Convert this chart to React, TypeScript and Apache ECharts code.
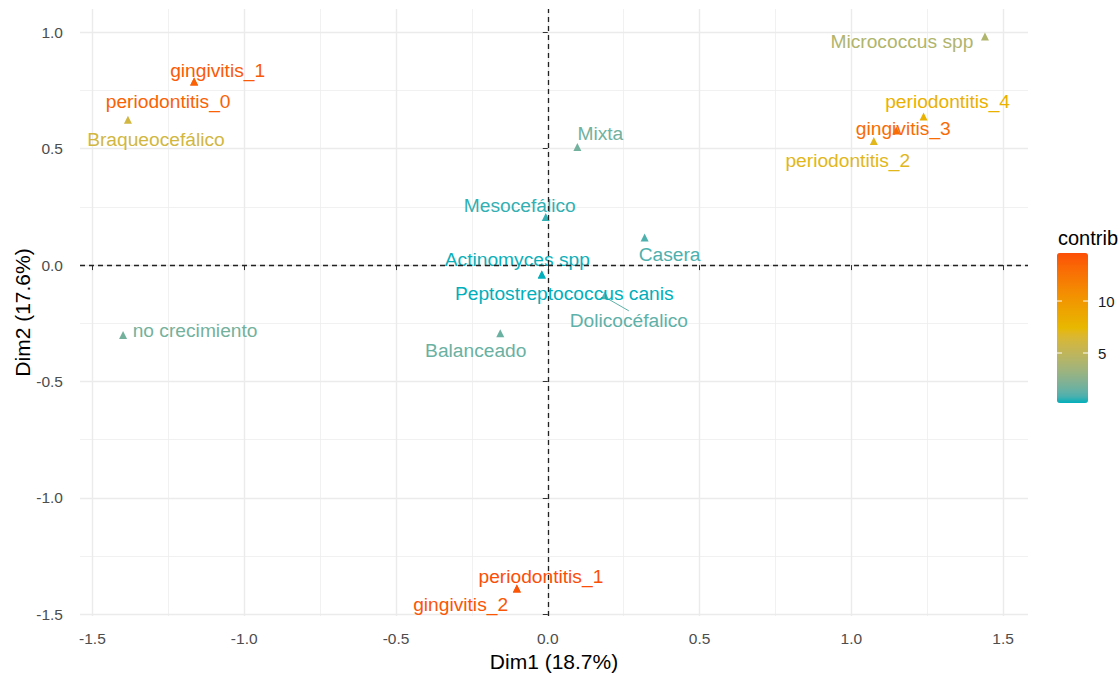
import React, { useEffect, useRef } from "react";
import * as echarts from "echarts";

// Category coordinates on the first two MCA dimensions and their contributions
const names = [
  "gingivitis_1",
  "periodontitis_0",
  "Braqueocefálico",
  "Micrococcus spp",
  "periodontitis_4",
  "gingivitis_3",
  "periodontitis_2",
  "Mixta",
  "Mesocefálico",
  "Casera",
  "Actinomyces spp",
  "Peptostreptococcus canis",
  "Dolicocéfalico",
  "Balanceado",
  "no crecimiento",
  "periodontitis_1",
  "gingivitis_2",
];
const dim1 = [
  -1.165, -1.165, -1.383, 1.44, 1.238, 1.148, 1.074, 0.0975, -0.0066, 0.319,
  -0.0197, -0.0197, 0.188, -0.1565, -1.399, -0.1017, -0.1017,
];
const dim2 = [
  0.789, 0.789, 0.6245, 0.9816, 0.6387, 0.5787, 0.5328, 0.507, 0.207, 0.1187,
  -0.04, -0.04, -0.13, -0.293, -0.3, -1.389, -1.389,
];
const contrib = [
  14.0, 13.6, 6.0, 4.2, 8.0, 13.0, 7.0, 1.7, 0.6, 0.9, 0.3, 0.19, 1.2, 1.5, 1.8,
  14.62, 14.2,
];

// Axis breaks
const xMajor = [-1.5, -1.0, -0.5, 0, 0.5, 1.0, 1.5];
const xMinor = [-1.25, -0.75, -0.25, 0.25, 0.75, 1.25];
const yMajor = [-1.5, -1.0, -0.5, 0, 0.5, 1.0];
const yMinor = [-1.25, -0.75, -0.25, 0.25, 0.75];
const legendBreaks = [5, 10];

// Repelled label placement (pixel offset of each label from its point)
const labelOffsets: [number, number][] = [
  [23.5, -11],
  [-26, 20],
  [28, 19.5],
  [-83, 5],
  [24, -14.5],
  [7, -1.5],
  [-26, 19.5],
  [23, -13.5],
  [-26, -11.5],
  [25, 17.5],
  [-24.5, -15],
  [22.5, 19],
  [24, 25],
  [-24.5, 17.5],
  [72, -4],
  [24, -12],
  [-56.3, 16.5],
];

// Gradient stops of the colour scale, interpolated in CIELAB
const gradientAnchors = ["#00AFBB", "#E7B800", "#FC4E07"];

function hexToLab(hex: string): number[] {
  const c = [1, 3, 5].map((i) => parseInt(hex.slice(i, i + 2), 16) / 255);
  const lin = c.map((v) =>
    v <= 0.04045 ? v / 12.92 : Math.pow((v + 0.055) / 1.055, 2.4)
  );
  const X = (0.4124564 * lin[0] + 0.3575761 * lin[1] + 0.1804375 * lin[2]) / 0.95047;
  const Y = 0.2126729 * lin[0] + 0.7151522 * lin[1] + 0.072175 * lin[2];
  const Z = (0.0193339 * lin[0] + 0.119192 * lin[1] + 0.9503041 * lin[2]) / 1.08883;
  const f = (t: number) =>
    t > 216 / 24389 ? Math.cbrt(t) : ((24389 / 27) * t + 16) / 116;
  const fx = f(X), fy = f(Y), fz = f(Z);
  return [116 * fy - 16, 500 * (fx - fy), 200 * (fy - fz)];
}

function labToHex(lab: number[]): string {
  const fy = (lab[0] + 16) / 116;
  const fx = fy + lab[1] / 500;
  const fz = fy - lab[2] / 200;
  const inv = (t: number) =>
    t * t * t > 216 / 24389 ? t * t * t : (116 * t - 16) / (24389 / 27);
  const X = inv(fx) * 0.95047, Y = inv(fy), Z = inv(fz) * 1.08883;
  const r = 3.2404542 * X - 1.5371385 * Y - 0.4985314 * Z;
  const g = -0.969266 * X + 1.8760108 * Y + 0.041556 * Z;
  const b = 0.0556434 * X - 0.2040259 * Y + 1.0572252 * Z;
  const toHex = (v: number) => {
    const s = v <= 0.0031308 ? 12.92 * v : 1.055 * Math.pow(v, 1 / 2.4) - 0.055;
    const n = Math.round(Math.min(1, Math.max(0, s)) * 255);
    return n.toString(16).padStart(2, "0");
  };
  return "#" + toHex(r) + toHex(g) + toHex(b);
}

function labRamp(anchors: string[], steps: number): string[] {
  const labs = anchors.map(hexToLab);
  const out: string[] = [];
  for (let i = 0; i <= steps; i++) {
    const t = (i / steps) * (labs.length - 1);
    const k = Math.min(labs.length - 2, Math.floor(t));
    const u = t - k;
    out.push(labToHex(labs[k].map((v, j) => v + (labs[k + 1][j] - v) * u)));
  }
  return out;
}

const FONT = "'Liberation Sans', Arial, Helvetica, sans-serif";

export default function App() {
  const ref = useRef<HTMLDivElement>(null);

  useEffect(() => {
    document.body.style.margin = "0";
    const chart = echarts.init(ref.current!, null, { renderer: "svg" });

    const xMin = Math.min(...dim1), xMax = Math.max(...dim1);
    const yMin = Math.min(...dim2), yMax = Math.max(...dim2);
    const xPad = (xMax - xMin) * 0.05, yPad = (yMax - yMin) * 0.05;
    const cMin = Math.min(...contrib), cMax = Math.max(...contrib);

    const bar = { left: 1057, top: 253, width: 31, height: 150 };
    const barY = (v: number) => bar.top + ((cMax - v) / (cMax - cMin)) * bar.height;

    const points = names.map((n, i) => ({
      name: n,
      value: [dim1[i], dim2[i], contrib[i]],
      label: { offset: labelOffsets[i] },
      labelLine: n === "Dolicocéfalico" ? { show: true, lineStyle: { width: 1 } } : undefined,
    }));

    const gridLine = (color: string, width: number) => ({ color, width, type: "solid" });

    const option: any = {
      animation: false,
      backgroundColor: "#ffffff",
      textStyle: { fontFamily: FONT },
      grid: {
        left: 80,
        right: 92,
        top: 9,
        bottom: 59,
        containLabel: false,
        outerBoundsMode: "none",
      },
      xAxis: {
        type: "value",
        min: xMin - xPad,
        max: xMax + xPad,
        name: "Dim1 (18.7%)",
        nameLocation: "middle",
        nameGap: 35,
        nameMoveOverlap: false,
        nameTextStyle: { fontSize: 21, color: "#000", fontFamily: FONT },
        axisLine: { show: false },
        splitLine: { show: false },
        axisTick: { show: true, customValues: xMajor, length: 5, lineStyle: { color: "#333", width: 1 } },
        axisLabel: {
          customValues: xMajor,
          formatter: (v: number) => v.toFixed(1),
          fontSize: 15.5,
          color: "#4D4D4D",
          margin: 14,
          fontFamily: FONT,
        },
      },
      yAxis: {
        type: "value",
        min: yMin - yPad,
        max: yMax + yPad,
        name: "Dim2 (17.6%)",
        nameLocation: "middle",
        nameGap: 47,
        nameMoveOverlap: false,
        nameTextStyle: { fontSize: 21, color: "#000", fontFamily: FONT },
        axisLine: { show: false },
        splitLine: { show: false },
        axisTick: { show: true, customValues: yMajor, length: 5, lineStyle: { color: "#333", width: 1 } },
        axisLabel: {
          customValues: yMajor,
          formatter: (v: number) => v.toFixed(1),
          fontSize: 15.5,
          color: "#4D4D4D",
          margin: 17,
          fontFamily: FONT,
        },
      },
      visualMap: {
        type: "continuous",
        seriesIndex: 2,
        dimension: 2,
        min: cMin,
        max: cMax,
        left: bar.left,
        top: bar.top,
        itemWidth: bar.width,
        itemHeight: bar.height,
        padding: 0,
        calculable: false,
        hoverLink: false,
        text: null,
        inRange: { color: labRamp(gradientAnchors, 24) },
      },
      series: [
        {
          // panel grid
          type: "scatter",
          data: [],
          silent: true,
          z: 0,
          markLine: {
            silent: true,
            z: 0,
            symbol: ["none", "none"],
            label: { show: false },
            emphasis: { disabled: true },
            data: [
              ...xMinor.map((v) => ({ xAxis: v, lineStyle: gridLine("#EDEDED", 0.8) })),
              ...yMinor.map((v) => ({ yAxis: v, lineStyle: gridLine("#EDEDED", 0.8) })),
              ...xMajor.map((v) => ({ xAxis: v, lineStyle: gridLine("#EBEBEB", 1.4) })),
              ...yMajor.map((v) => ({ yAxis: v, lineStyle: gridLine("#EBEBEB", 1.4) })),
            ],
          },
        },
        {
          // reference lines through the origin
          type: "scatter",
          data: [],
          silent: true,
          z: 10,
          markLine: {
            silent: true,
            z: 10,
            symbol: ["none", "none"],
            label: { show: false },
            emphasis: { disabled: true },
            lineStyle: { color: "#222", width: 1.3, type: [5, 4] },
            data: [{ xAxis: 0 }, { yAxis: 0 }],
          },
        },
        {
          type: "scatter",
          z: 5,
          symbol: "triangle",
          symbolSize: 8,
          itemStyle: { opacity: 1 },
          emphasis: { disabled: true },
          data: points,
          label: {
            show: true,
            formatter: "{b}",
            position: ["50%", "50%"],
            align: "center",
            verticalAlign: "middle",
            color: "inherit",
            fontSize: 19.2,
            fontFamily: FONT,
          },
        },
      ],
      graphic: [
        {
          type: "text",
          left: 1058,
          top: 228,
          style: { text: "contrib", fontSize: 20, fill: "#000", fontFamily: FONT },
        },
        ...legendBreaks.flatMap((v) => [
          {
            type: "line",
            shape: { x1: bar.left, y1: barY(v), x2: bar.left + 5, y2: barY(v) },
            style: { stroke: "#fff", lineWidth: 1 },
            z: 100,
          },
          {
            type: "line",
            shape: { x1: bar.left + bar.width - 5, y1: barY(v), x2: bar.left + bar.width, y2: barY(v) },
            style: { stroke: "#fff", lineWidth: 1 },
            z: 100,
          },
          {
            type: "text",
            x: 1098,
            y: barY(v),
            style: {
              text: String(v),
              fontSize: 15,
              fill: "#1A1A1A",
              fontFamily: FONT,
              verticalAlign: "middle",
              align: "left",
            },
          },
        ]),
      ],
    };

    chart.setOption(option);
    return () => chart.dispose();
  }, []);

  return <div ref={ref} style={{ width: 1120, height: 675 }} />;
}
